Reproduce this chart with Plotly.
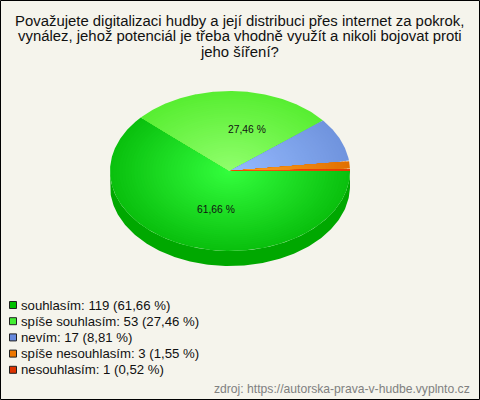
import numpy as np
import plotly.graph_objects as go

categories = ["souhlasím", "spíše souhlasím", "nevím", "spíše nesouhlasím", "nesouhlasím"]
counts = [119, 53, 17, 3, 1]
percent_labels = ["61,66 %", "27,46 %", "8,81 %", "1,55 %", "0,52 %"]
title_lines = [
    "Považujete digitalizaci hudby a její distribuci přes internet za pokrok,",
    "vynález, jehož potenciál je třeba vhodně využít a nikoli bojovat proti",
    "jeho šíření?",
]
source_text = "zdroj: https://autorska-prava-v-hudbe.vyplnto.cz"

center_colors = [(52, 255, 62), (146, 255, 110), (150, 187, 255), (255, 165, 35), (255, 85, 25)]
edge_colors = [(10, 192, 14), (88, 238, 50), (112, 148, 222), (226, 112, 0), (226, 62, 0)]
side_colors = ["#00a800", "#33b020", "#5070b0", "#b05800", "#b03000"]
legend_colors = ["#00c000", "#44ee33", "#6688dd", "#ee7700", "#dd3300"]

CX, CY, RX, RY, DEPTH = 230, 171, 120, 80, 15
RINGS = 40
BG = "#f5f4ec"

fig = go.Figure()


def wedge(a0, a1, r):
    t = np.linspace(a0, a1, max(3, int((a1 - a0) * 2) + 2))
    xs = CX + r * RX * np.cos(np.radians(t))
    ys = CY + r * RY * np.sin(np.radians(t))
    return np.r_[CX, xs, CX], np.r_[CY, ys, CY]


def poly(x, y, color):
    fig.add_trace(go.Scatter(x=x, y=y, mode="lines", fill="toself", fillcolor=color,
                             line=dict(width=0, color=color), hoverinfo="skip", showlegend=False))


total = sum(counts)
edges = np.r_[0, np.cumsum(counts)] / total * 360

# side wall (front half of the ellipse only)
for i in range(len(counts)):
    a0, a1 = edges[i], min(edges[i + 1], 180)
    if a0 < a1:
        t = np.linspace(a0, a1, 200)
        xs = CX + RX * np.cos(np.radians(t))
        ys = CY + RY * np.sin(np.radians(t))
        poly(np.r_[xs, xs[::-1]], np.r_[ys, ys[::-1] + DEPTH], side_colors[i])

# top face with radial shading
for i in range(len(counts)):
    for k in range(RINGS):
        f = 1 - k / RINGS
        c = [round(e + (m - e) * (1 - f)) for e, m in zip(edge_colors[i], center_colors[i])]
        x, y = wedge(edges[i], edges[i + 1], f)
        poly(x, y, f"rgb({c[0]},{c[1]},{c[2]})")

# legend markers
LEG_Y0, LEG_DY = 305, 16.2
leg_y = [LEG_Y0 + LEG_DY * i for i in range(len(categories))]
fig.add_trace(go.Scatter(x=[13] * len(categories), y=leg_y, mode="markers",
                         marker=dict(symbol="square", size=7, color=legend_colors,
                                     line=dict(color="#222222", width=1)),
                         hoverinfo="skip", showlegend=False))

annotations = []


def text(x, y, s, size, color="#111111", anchor="left"):
    annotations.append(dict(x=x, y=y, text=s, showarrow=False, xanchor=anchor, yanchor="middle",
                            xref="x", yref="y", borderpad=0,
                            font=dict(family="Liberation Sans", size=size, color=color)))


for s, y in zip(title_lines, [20.5, 36, 51.5]):
    text(239.5, y, s, 14.9, anchor="center")
for i, y in enumerate(leg_y):
    text(20, y, f"{categories[i]}: {counts[i]} ({percent_labels[i]})", 13.2)
text(215.5, 209, percent_labels[0], 10.3, anchor="center")
text(246.5, 129, percent_labels[1], 10.3, anchor="center")
text(470.5, 388.5, source_text, 12.15, color="#808080", anchor="right")

fig.update_layout(
    width=480, height=400, margin=dict(l=0, r=0, t=0, b=0),
    paper_bgcolor=BG, plot_bgcolor=BG, annotations=annotations,
    xaxis=dict(range=[0, 480], visible=False, fixedrange=True),
    yaxis=dict(range=[400, 0], visible=False, fixedrange=True),
    shapes=[dict(type="rect", xref="x", yref="y", x0=0.5, y0=0.5, x1=479.5, y1=399.5,
                 line=dict(color="#000000", width=1), layer="above")],
)
fig.write_html("out.html", config=dict(displayModeBar=False),
               post_script="document.body.style.margin='0';document.documentElement.style.overflow='hidden';")
